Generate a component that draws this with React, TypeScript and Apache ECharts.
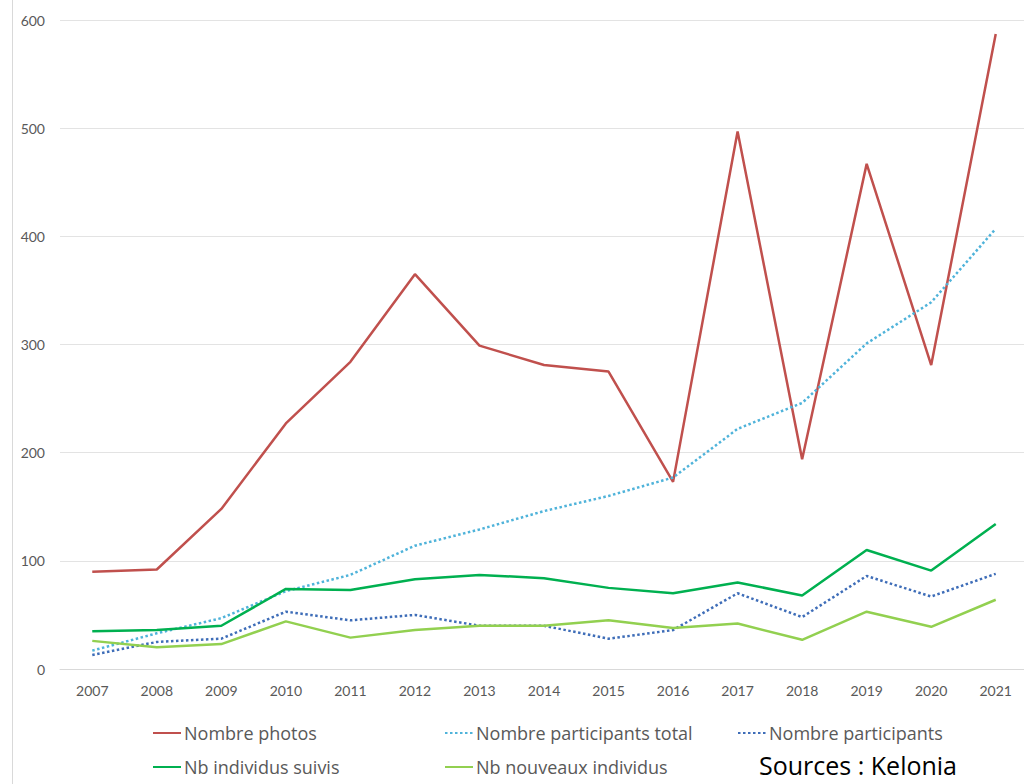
import React, { useEffect, useRef } from "react";
import * as echarts from "echarts";

// Years of the survey
const years = ["2007", "2008", "2009", "2010", "2011", "2012", "2013", "2014", "2015", "2016", "2017", "2018", "2019", "2020", "2021"];

// Yearly counts
const nombrePhotos = [90, 92, 148, 227, 284, 365, 299, 281, 275, 173, 497, 194, 467, 281, 587];
const participantsTotal = [17, 33, 47, 72, 87, 114, 129, 146, 160, 177, 222, 246, 301, 339, 407];
const participants = [13, 25, 28, 53, 45, 50, 40, 40, 28, 36, 70, 48, 86, 67, 88];
const individusSuivis = [35, 36, 40, 74, 73, 83, 87, 84, 75, 70, 80, 68, 110, 91, 134];
const nouveauxIndividus = [26, 20, 23, 44, 29, 36, 40, 40, 45, 38, 42, 27, 53, 39, 64];

const yTicks = { min: 0, max: 600, interval: 100 };

const AXIS_FONT = "Lato";
const LEGEND_FONT = "Open Sans";
const TEXT_GREY = "#595959";

const seriesDefs = [
  { name: "Nombre photos", data: nombrePhotos, color: "#C0504D", type: "solid" },
  { name: "Nombre participants total", data: participantsTotal, color: "#4FB3DA", type: "dotted" },
  { name: "Nombre participants", data: participants, color: "#3E6DB8", type: "dotted" },
  { name: "Nb individus suivis", data: individusSuivis, color: "#00B050", type: "solid" },
  { name: "Nb nouveaux individus", data: nouveauxIndividus, color: "#92D050", type: "solid" },
];

// Legend entries placed on two rows
const legendPlacement = [
  { name: "Nombre photos", left: 152, top: 724 },
  { name: "Nombre participants total", left: 444, top: 724 },
  { name: "Nombre participants", left: 737, top: 724 },
  { name: "Nb individus suivis", left: 152, top: 758 },
  { name: "Nb nouveaux individus", left: 444, top: 758 },
];

export default function App() {
  const ref = useRef<HTMLDivElement>(null);

  useEffect(() => {
    if (!ref.current) return;
    const chart = echarts.init(ref.current, null, { renderer: "svg" });

    chart.setOption({
      animation: false,
      backgroundColor: "#ffffff",
      textStyle: { fontFamily: AXIS_FONT },
      grid: { left: 60, top: 20, right: -4, height: 649, containLabel: false, outerBoundsMode: "none" },
      xAxis: {
        type: "category",
        data: years,
        boundaryGap: true,
        axisLine: { show: true, lineStyle: { color: "#d9d9d9", width: 1 } },
        axisTick: { show: false },
        axisLabel: { color: TEXT_GREY, fontSize: 14, margin: 14, fontFamily: AXIS_FONT },
      },
      yAxis: {
        type: "value",
        min: yTicks.min,
        max: yTicks.max,
        interval: yTicks.interval,
        axisLine: { show: false },
        axisTick: { show: false },
        axisLabel: { color: TEXT_GREY, fontSize: 14, margin: 15, fontFamily: AXIS_FONT },
        splitLine: { lineStyle: { color: "#e3e3e3", width: 1 } },
      },
      legend: legendPlacement.map((p) => ({
        data: [p.name],
        left: p.left,
        top: p.top,
        padding: 0,
        itemWidth: 28,
        itemHeight: 18,
        itemGap: 0,
        itemStyle: { opacity: 0 },
        textStyle: { color: TEXT_GREY, fontSize: 18, fontFamily: LEGEND_FONT, padding: [0, 0, 0, -2] },
        selectedMode: false,
      })),
      graphic: [
        {
          type: "line",
          shape: { x1: 12.5, y1: 0, x2: 12.5, y2: 784 },
          style: { stroke: "#d9d9d9", lineWidth: 1 },
          silent: true,
        },
        {
          type: "text",
          left: 759,
          top: 752,
          style: { text: "Sources : Kelonia", fill: "#000000", fontSize: 25, fontFamily: LEGEND_FONT },
        },
      ],
      series: seriesDefs.map((s) => ({
        name: s.name,
        type: "line",
        data: s.data,
        symbol: "none",
        smooth: false,
        color: s.color,
        lineStyle: { color: s.color, width: 2.5, type: s.type === "dotted" ? [2.5, 2.5] : "solid" },
        itemStyle: { color: s.color },
      })),
    });

    return () => chart.dispose();
  }, []);

  return (
    <div
      ref={ref}
      style={{ position: "absolute", left: 0, top: 0, width: 1024, height: 784, background: "#fff" }}
    />
  );
}
